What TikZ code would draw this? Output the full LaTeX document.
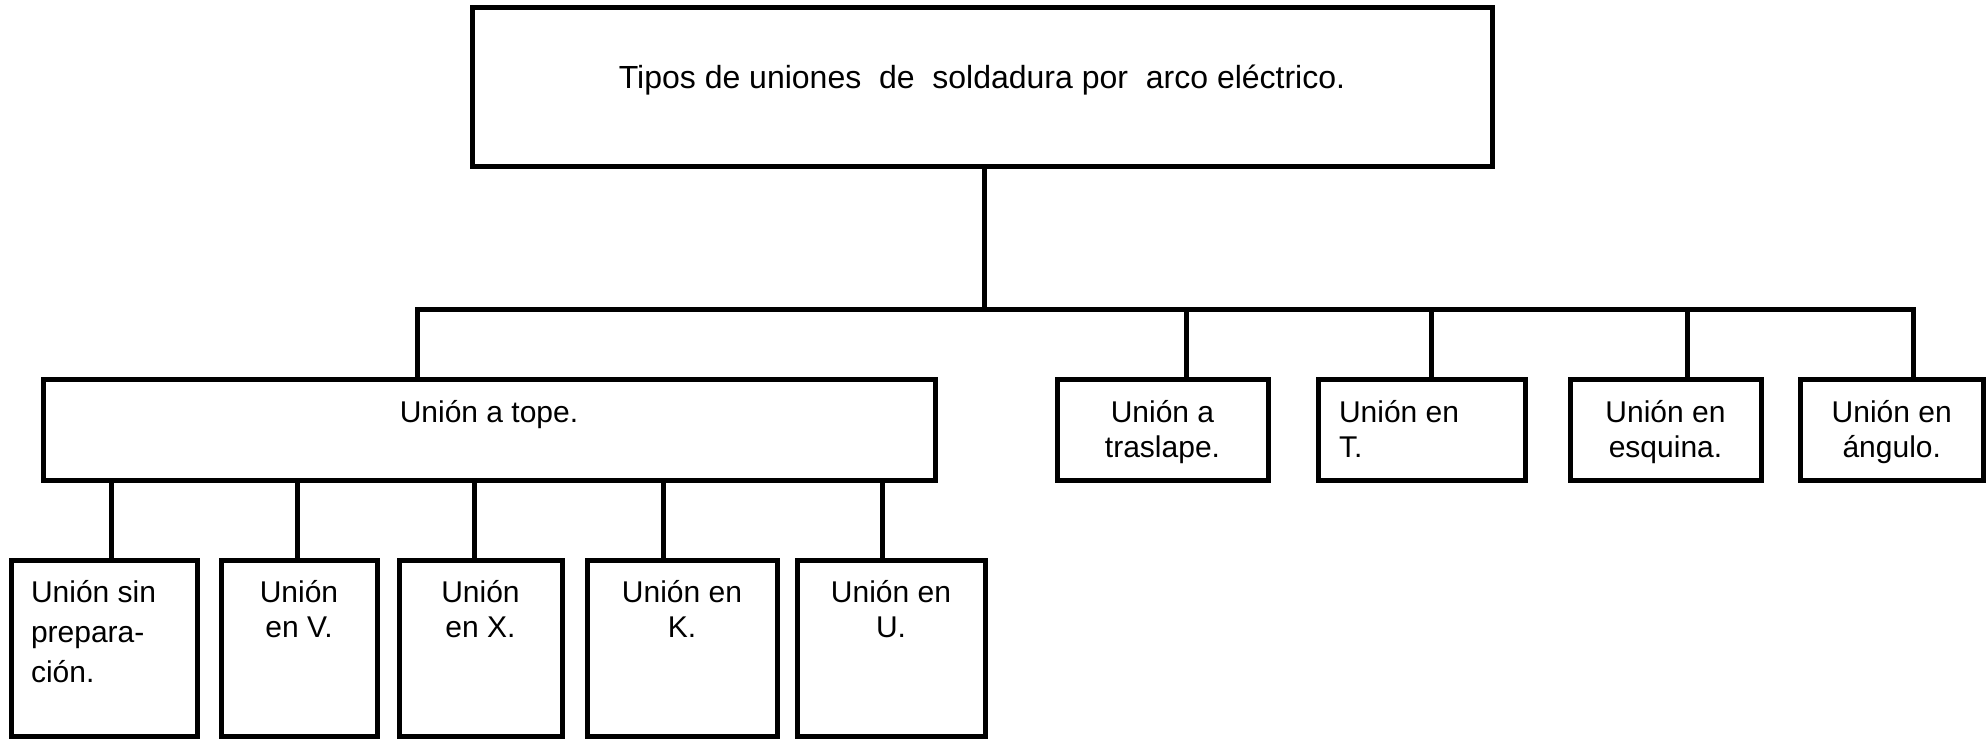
\documentclass[tikz,border=0pt]{standalone}
\usepackage{fontspec}
\setmainfont{Liberation Sans}
\newcommand\bt[5]{\parbox[c][#2][t]{#1}{#3\rule{0pt}{#4}#5}}
\begin{document}
\begin{tikzpicture}[x=0.5pt,y=-0.5pt,
  box/.style={draw=black, line width=2.5pt, inner sep=0pt, outer sep=0pt,
    font=\fontsize{15}{17.5}\selectfont},
  widebox/.style={box, font=\fontsize{15}{20}\selectfont},
  titlebox/.style={box, font=\fontsize{16}{19}\selectfont},
  conn/.style={draw=black, line width=2.5pt}]
\fill[white] (0,0) rectangle (1986,739);
\useasboundingbox (0,0) rectangle (1986,739);
% title
\node[titlebox] (top) at (982,86.5)
  {\bt{510pt}{79.5pt}{\centering}{40.5pt}{Tipos de uniones\ \ de\ \ soldadura por\ \ arco eléctrico.}};
% second row
\node[box] (tope) at (489,429.5) {\bt{446pt}{50.5pt}{\centering}{21.5pt}{Unión a tope.}};
\node[box] (traslape) at (1162.5,429.5) {\bt{105.5pt}{50.5pt}{\centering}{21.5pt}{Unión a\\traslape.}};
\node[box] (enT) at (1421.5,429.5) {\bt{103.5pt}{50.5pt}{\raggedright\leftskip=10.5pt}{21.5pt}{Unión en\\T.}};
\node[box] (esquina) at (1665.5,429.5) {\bt{95.5pt}{50.5pt}{\centering}{21.5pt}{Unión en\\esquina.}};
\node[box] (angulo) at (1891.75,429.5) {\bt{91.75pt}{50.5pt}{\centering}{21.5pt}{Unión en\\ángulo.}};
% third row
\node[widebox] (sinprep) at (104,648.25) {\bt{93pt}{88.25pt}{\raggedright\leftskip=10pt}{21pt}{Unión sin\\prepara-\\ción.}};
\node[box] (enV) at (299,648.25) {\bt{78pt}{88.25pt}{\centering}{21pt}{Unión\\en V.}};
\node[box] (enX) at (480.5,648.25) {\bt{81.5pt}{88.25pt}{\centering}{21pt}{Unión\\en X.}};
\node[box] (enK) at (682,648.25) {\bt{95pt}{88.25pt}{\centering}{21pt}{Unión en\\K.}};
\node[box] (enU) at (891,648.25) {\bt{94pt}{88.25pt}{\centering}{21pt}{Unión en\\U.}};
% bus coordinates
\coordinate (trunk) at (984,309);
\coordinate (busL) at (417,309);
\coordinate (busR) at (1913,309);
\coordinate (c1) at (1186,309);
\coordinate (c2) at (1431,309);
\coordinate (c3) at (1687,309);
\coordinate (d1) at (111,520);
\coordinate (d2) at (297,520);
\coordinate (d3) at (474,520);
\coordinate (d4) at (663,520);
\coordinate (d5) at (882,520);
% connectors
\draw[conn] (top.south -| trunk) -- (trunk);
\draw[conn] (tope.north -| busL) -- (busL) -- (busR) -- (angulo.north -| busR);
\draw[conn] (c1) -- (traslape.north -| c1);
\draw[conn] (c2) -- (enT.north -| c2);
\draw[conn] (c3) -- (esquina.north -| c3);
\draw[conn] (tope.south -| d1) -- (sinprep.north -| d1);
\draw[conn] (tope.south -| d2) -- (enV.north -| d2);
\draw[conn] (tope.south -| d3) -- (enX.north -| d3);
\draw[conn] (tope.south -| d4) -- (enK.north -| d4);
\draw[conn] (tope.south -| d5) -- (enU.north -| d5);
\end{tikzpicture}
\end{document}
